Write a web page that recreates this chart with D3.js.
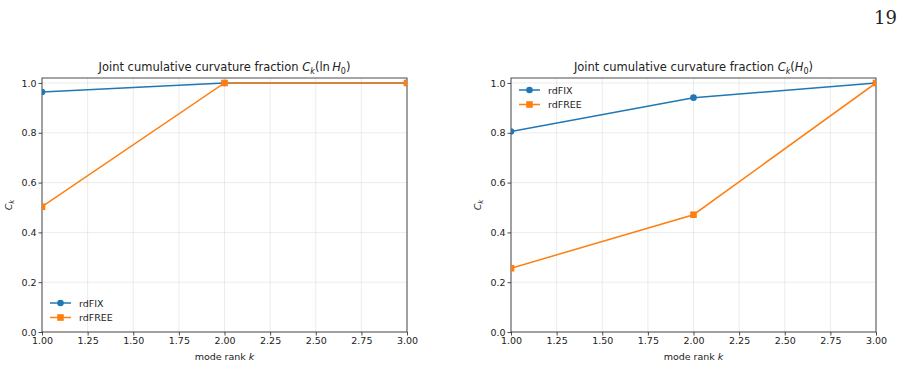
<!DOCTYPE html>
<html>
<head>
<meta charset="utf-8">
<script src="https://cdn.jsdelivr.net/npm/d3@7"></script>
<style>
  body { margin: 0; background: #fff; }
  svg { display: block; font-family: "DejaVu Sans", sans-serif; }
</style>
</head>
<body>
<div id="app"></div>
<script>
// mode ranks (x) shared by both panels
const ranks = [1, 2, 3];

// left panel: C_k(ln H0)
const lnH0Fix = [0.964, 1.0, 1.0];
const lnH0Free = [0.503, 1.0, 1.0];

// right panel: C_k(H0)
const h0Fix = [0.805, 0.941, 1.0];
const h0Free = [0.256, 0.471, 1.0];

const xTicks = [1.0, 1.25, 1.5, 1.75, 2.0, 2.25, 2.5, 2.75, 3.0];
const yTicks = [0.0, 0.2, 0.4, 0.6, 0.8, 1.0];
const seriesNames = ["rdFIX", "rdFREE"];
const colors = ["#1f77b4", "#ff7f0e"];

const W = 903, H = 366;
const svg = d3.select("#app").append("svg").attr("width", W).attr("height", H);

// page number
svg.append("text")
  .attr("x", 897).attr("y", 24)
  .attr("text-anchor", "end")
  .attr("font-family", "'DejaVu Serif', 'Liberation Serif', serif")
  .attr("font-size", 18)
  .attr("fill", "#222")
  .text("19");

const panels = [
  { left: 42, right: 407, title: ["Joint cumulative curvature fraction ", "ln", "H", "0"], fix: lnH0Fix, free: lnH0Free, legend: "bottom" },
  { left: 511, right: 876, title: ["Joint cumulative curvature fraction ", "", "H", "0"], fix: h0Fix, free: h0Free, legend: "top" }
];
const plotTop = 78, plotBottom = 332;

panels.forEach(p => {
  const x = d3.scaleLinear().domain([1, 3]).range([p.left, p.right]);
  const y = d3.scaleLinear().domain([0, 1.02]).range([plotBottom, plotTop]);
  const g = svg.append("g");

  // grid
  g.append("g").selectAll("line").data(xTicks).join("line")
    .attr("x1", d => x(d)).attr("x2", d => x(d))
    .attr("y1", plotTop).attr("y2", plotBottom)
    .attr("stroke", "#b0b0b0").attr("stroke-opacity", 0.3).attr("stroke-width", 0.8);
  g.append("g").selectAll("line").data(yTicks).join("line")
    .attr("x1", p.left).attr("x2", p.right)
    .attr("y1", d => y(d)).attr("y2", d => y(d))
    .attr("stroke", "#b0b0b0").attr("stroke-opacity", 0.3).attr("stroke-width", 0.8);

  // axes
  const xAxis = g.append("g").attr("transform", `translate(0,${plotBottom})`)
    .call(d3.axisBottom(x).tickValues(xTicks).tickFormat(d3.format(".2f")).tickSize(3.5).tickPadding(2));
  const yAxis = g.append("g").attr("transform", `translate(${p.left},0)`)
    .call(d3.axisLeft(y).tickValues(yTicks).tickFormat(d3.format(".1f")).tickSize(3.5).tickPadding(2));
  [xAxis, yAxis].forEach(a => {
    a.select(".domain").remove();
    a.selectAll("text").attr("font-size", 9.5).attr("fill", "#222").attr("font-family", "'DejaVu Sans', sans-serif");
    a.selectAll("line").attr("stroke", "#222").attr("stroke-width", 0.8);
  });

  // frame
  g.append("rect")
    .attr("x", p.left).attr("y", plotTop)
    .attr("width", p.right - p.left).attr("height", plotBottom - plotTop)
    .attr("fill", "none").attr("stroke", "#222").attr("stroke-width", 0.8);

  // labels
  const xl = g.append("text")
    .attr("x", (p.left + p.right) / 2).attr("y", plotBottom + 28)
    .attr("text-anchor", "middle").attr("font-size", 9.5).attr("fill", "#222");
  xl.append("tspan").text("mode rank ");
  xl.append("tspan").attr("font-style", "italic").text("k");

  const yl = g.append("text")
    .attr("transform", `translate(${p.left - 30},${(plotTop + plotBottom) / 2}) rotate(-90)`)
    .attr("text-anchor", "middle").attr("font-size", 9.5).attr("fill", "#222");
  yl.append("tspan").attr("font-style", "italic").text("C");
  yl.append("tspan").attr("font-style", "italic").attr("font-size", 7).attr("dy", 2).text("k");

  const t = g.append("text")
    .attr("x", (p.left + p.right) / 2).attr("y", plotTop - 7)
    .attr("text-anchor", "middle").attr("font-size", 11.5).attr("fill", "#222");
  t.append("tspan").text(p.title[0]);
  t.append("tspan").attr("font-style", "italic").text("C");
  t.append("tspan").attr("font-style", "italic").attr("font-size", 8).attr("dy", 2.5).text("k");
  t.append("tspan").attr("dy", -2.5).text("(" + (p.title[1] ? p.title[1] + "\u2009" : ""));
  t.append("tspan").attr("font-style", "italic").text(p.title[2]);
  t.append("tspan").attr("font-size", 8).attr("dy", 2.5).text(p.title[3]);
  t.append("tspan").attr("dy", -2.5).text(")");

  const line = d3.line().x((d, i) => x(ranks[i])).y(d => y(d));
  const clip = "clip" + p.left;
  svg.append("clipPath").attr("id", clip).append("rect")
    .attr("x", p.left).attr("y", plotTop).attr("width", p.right - p.left).attr("height", plotBottom - plotTop);

  [p.fix, p.free].forEach((vals, si) => {
    const sg = g.append("g").attr("clip-path", `url(#${clip})`);
    sg.append("path").datum(vals).attr("d", line)
      .attr("fill", "none").attr("stroke", colors[si]).attr("stroke-width", 1.5);
    if (si === 0) {
      sg.selectAll("circle").data(vals).join("circle")
        .attr("cx", (d, i) => x(ranks[i])).attr("cy", d => y(d)).attr("r", 3.3)
        .attr("fill", colors[si]);
    } else {
      sg.selectAll("rect").data(vals).join("rect")
        .attr("x", (d, i) => x(ranks[i]) - 3.3).attr("y", d => y(d) - 3.3)
        .attr("width", 6.6).attr("height", 6.6).attr("fill", colors[si]);
    }
  });

  // legend
  const ly0 = p.legend === "bottom" ? 303 : 90;
  const lx0 = p.left + 8;
  seriesNames.forEach((name, si) => {
    const ly = ly0 + si * 14.5;
    g.append("line").attr("x1", lx0).attr("x2", lx0 + 21).attr("y1", ly).attr("y2", ly)
      .attr("stroke", colors[si]).attr("stroke-width", 1.5);
    if (si === 0) {
      g.append("circle").attr("cx", lx0 + 10.5).attr("cy", ly).attr("r", 3.3).attr("fill", colors[si]);
    } else {
      g.append("rect").attr("x", lx0 + 7.2).attr("y", ly - 3.3).attr("width", 6.6).attr("height", 6.6).attr("fill", colors[si]);
    }
    g.append("text").attr("x", lx0 + 29).attr("y", ly + 3.5)
      .attr("font-size", 9.5).attr("fill", "#222").text(name);
  });
});
</script>
</body>
</html>
